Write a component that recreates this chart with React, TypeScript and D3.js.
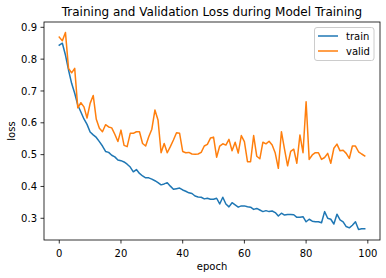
import React from "react";
import * as d3 from "d3";

const epochs: number[] = Array.from({ length: 100 }, (_, i) => i);

const trainLoss: number[] = [
  0.844, 0.85, 0.813, 0.766, 0.724, 0.693, 0.656, 0.634, 0.612, 0.595,
  0.571, 0.562, 0.554, 0.541, 0.527, 0.51, 0.507, 0.498, 0.493, 0.483,
  0.481, 0.477, 0.47, 0.461, 0.446, 0.453, 0.441, 0.433, 0.427, 0.427,
  0.423, 0.418, 0.412, 0.405, 0.408, 0.412, 0.401, 0.391, 0.393, 0.395,
  0.389, 0.385, 0.38, 0.378, 0.37, 0.367, 0.366, 0.361, 0.363, 0.36,
  0.36, 0.363, 0.345, 0.366, 0.345, 0.336, 0.349, 0.342, 0.335, 0.339,
  0.339, 0.336, 0.335, 0.328, 0.331, 0.326, 0.321, 0.324, 0.321, 0.323,
  0.318, 0.307, 0.316, 0.31, 0.312, 0.312, 0.311, 0.303, 0.303, 0.305,
  0.289, 0.297, 0.291, 0.289, 0.289, 0.286, 0.321, 0.3, 0.297, 0.282,
  0.313, 0.295, 0.289, 0.274, 0.27, 0.278, 0.289, 0.265, 0.267, 0.267,
];

const validLoss: number[] = [
  0.869, 0.858, 0.884, 0.771, 0.757, 0.771, 0.647, 0.663, 0.65, 0.615,
  0.661, 0.686, 0.611, 0.583, 0.572, 0.594, 0.587, 0.584, 0.564, 0.541,
  0.577, 0.529, 0.525, 0.567, 0.567, 0.572, 0.572, 0.535, 0.527, 0.556,
  0.58, 0.64, 0.609, 0.506, 0.535, 0.506, 0.525, 0.546, 0.569, 0.567,
  0.51, 0.506, 0.507, 0.502, 0.501, 0.502, 0.507, 0.527, 0.532, 0.552,
  0.555, 0.492, 0.527, 0.534, 0.53, 0.548, 0.512, 0.539, 0.505, 0.56,
  0.541, 0.478, 0.478, 0.56, 0.495, 0.487, 0.539, 0.534, 0.542, 0.53,
  0.505, 0.457, 0.572, 0.517, 0.465, 0.51, 0.517, 0.473, 0.562, 0.506,
  0.666, 0.485, 0.499, 0.506, 0.506, 0.485, 0.491, 0.504, 0.473, 0.52,
  0.533, 0.512, 0.514, 0.504, 0.488, 0.527, 0.527, 0.509, 0.502, 0.496,
];

const xTicks: number[] = [0, 20, 40, 60, 80, 100];
const yTicks: number[] = [0.3, 0.4, 0.5, 0.6, 0.7, 0.8, 0.9];
const seriesNames: string[] = ["train", "valid"];
const seriesColors: string[] = ["#1f77b4", "#ff7f0e"];

const W = 386;
const H = 278;
const M = { left: 44, right: 380, top: 22, bottom: 240 };
const FONT = "DejaVu Sans, sans-serif";

export default function App() {
  const x = d3.scaleLinear().domain([-4.95, 103.95]).range([M.left, M.right]);
  const y = d3.scaleLinear().domain([0.2318, 0.9167]).range([M.bottom, M.top]);

  const line = d3
    .line<number>()
    .x((_, i) => x(epochs[i]))
    .y((d) => y(d));

  const series = [trainLoss, validLoss];
  const cx = (M.left + M.right) / 2;

  return (
    <svg
      width={W}
      height={H}
      style={{ position: "absolute", left: 0, top: 0, background: "#fff" }}
      fontFamily={FONT}
    >
      <rect x={0} y={0} width={W} height={H} fill="#fff" />
      <defs>
        <clipPath id="plotclip">
          <rect x={M.left} y={M.top} width={M.right - M.left} height={M.bottom - M.top} />
        </clipPath>
      </defs>
      <g clipPath="url(#plotclip)">
        {series.map((s, k) => (
          <path
            key={k}
            d={line(s) || ""}
            fill="none"
            stroke={seriesColors[k]}
            strokeWidth={1.5}
            strokeLinejoin="round"
            strokeLinecap="square"
          />
        ))}
      </g>
      {/* spines */}
      <rect
        x={M.left}
        y={M.top}
        width={M.right - M.left}
        height={M.bottom - M.top}
        fill="none"
        stroke="#000"
        strokeWidth={0.8}
      />
      {/* x ticks */}
      {xTicks.map((t) => (
        <g key={"x" + t}>
          <line x1={x(t)} x2={x(t)} y1={M.bottom} y2={M.bottom + 3.5} stroke="#000" strokeWidth={0.8} />
          <text x={x(t)} y={M.bottom + 16.5} fontSize={10} textAnchor="middle" fill="#000">
            {t}
          </text>
        </g>
      ))}
      {/* y ticks */}
      {yTicks.map((t) => (
        <g key={"y" + t}>
          <line x1={M.left - 3.5} x2={M.left} y1={y(t)} y2={y(t)} stroke="#000" strokeWidth={0.8} />
          <text x={M.left - 7} y={y(t) + 3.6} fontSize={10} textAnchor="end" fill="#000">
            {t.toFixed(1)}
          </text>
        </g>
      ))}
      <text x={cx} y={16} fontSize={12} textAnchor="middle" fill="#000">
        Training and Validation Loss during Model Training
      </text>
      <text x={cx} y={270} fontSize={10} textAnchor="middle" fill="#000">
        epoch
      </text>
      <text
        transform={`translate(15, ${(M.top + M.bottom) / 2}) rotate(-90)`}
        fontSize={10}
        textAnchor="middle"
        fill="#000"
      >
        loss
      </text>
      {/* legend */}
      <g>
        <rect
          x={314.5}
          y={27.5}
          width={59.5}
          height={33}
          rx={2.5}
          fill="#fff"
          fillOpacity={0.8}
          stroke="#cccccc"
          strokeWidth={1}
        />
        {seriesNames.map((n, k) => (
          <g key={n}>
            <line
              x1={318}
              x2={338}
              y1={36 + k * 15}
              y2={36 + k * 15}
              stroke={seriesColors[k]}
              strokeWidth={1.5}
            />
            <text x={346} y={39.5 + k * 15} fontSize={10} fill="#000">
              {n}
            </text>
          </g>
        ))}
      </g>
    </svg>
  );
}
